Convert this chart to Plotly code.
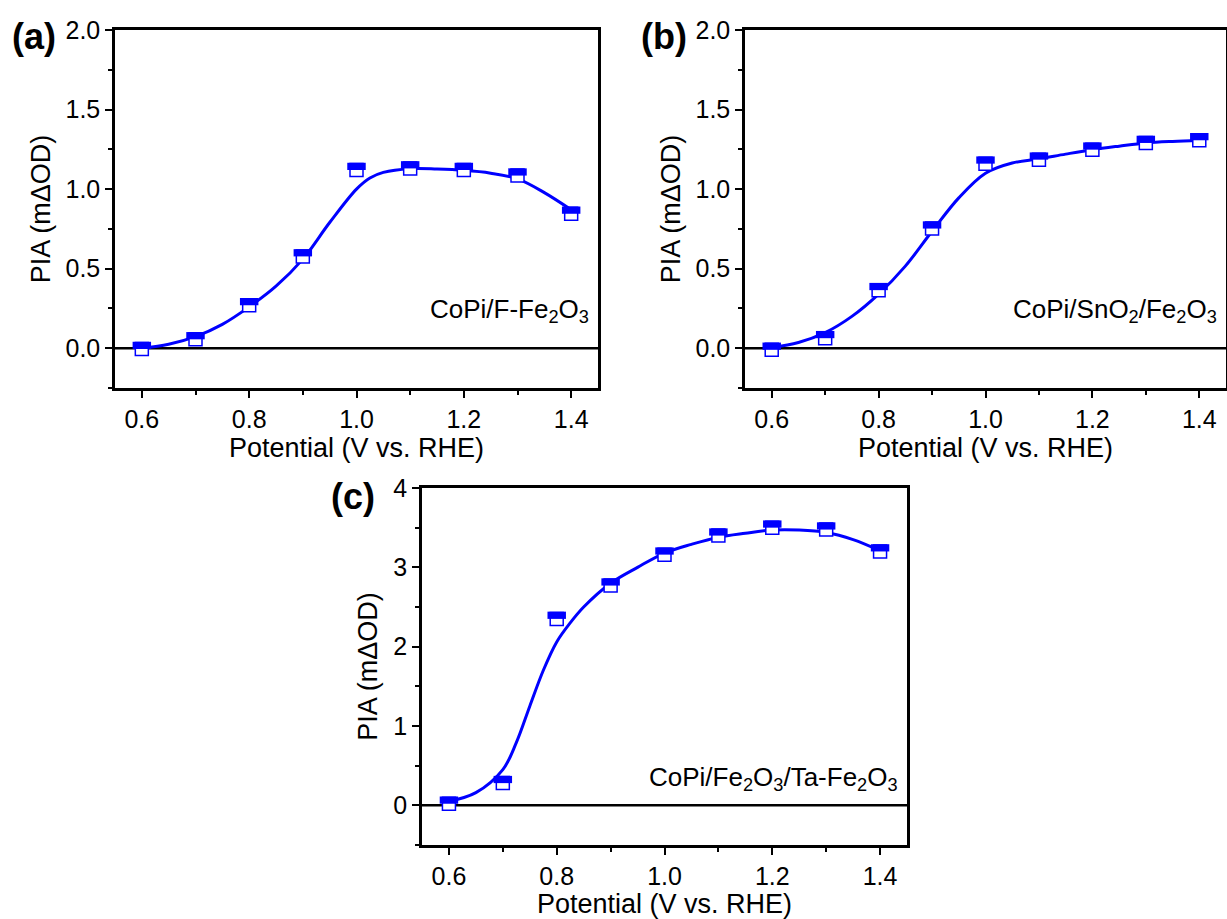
import plotly.graph_objects as go

# ---------------- data ----------------
potential = [0.6, 0.7, 0.8, 0.9, 1.0, 1.1, 1.2, 1.3, 1.4]

pia_a = [-0.005, 0.056, 0.27, 0.577, 1.12, 1.13, 1.12, 1.085, 0.845]
pia_b = [-0.01, 0.063, 0.365, 0.752, 1.16, 1.185, 1.248, 1.29, 1.307]
pia_c = [0.02, 0.28, 2.35, 2.77, 3.16, 3.40, 3.50, 3.476, 3.20]

# smoothed curves
curve_x_a = [0.6, 0.65, 0.7, 0.75, 0.8, 0.85, 0.9, 0.95, 1.0, 1.025, 1.05, 1.1, 1.15, 1.2, 1.25, 1.3, 1.35, 1.4]
curve_a = [0.0, 0.025, 0.073, 0.15, 0.26, 0.39, 0.56, 0.79, 1.0, 1.07, 1.105, 1.128, 1.126, 1.118, 1.10, 1.064, 0.978, 0.87]

curve_x_b = [0.6, 0.65, 0.7, 0.75, 0.8, 0.85, 0.9, 0.95, 1.0, 1.05, 1.1, 1.15, 1.2, 1.25, 1.3, 1.35, 1.4]
curve_b = [0.005, 0.036, 0.098, 0.20, 0.34, 0.516, 0.735, 0.945, 1.10, 1.164, 1.19, 1.22, 1.248, 1.27, 1.29, 1.30, 1.306]

curve_x_c = [0.6, 0.65, 0.7, 0.725, 0.75, 0.775, 0.8, 0.825, 0.85, 0.9, 0.95, 1.0, 1.05, 1.1, 1.15, 1.2, 1.25, 1.3, 1.35, 1.4]
curve_c = [0.05, 0.16, 0.45, 0.79, 1.25, 1.70, 2.06, 2.30, 2.50, 2.80, 3.0, 3.18, 3.29, 3.38, 3.43, 3.47, 3.47, 3.44, 3.35, 3.21]

labels = ["CoPi/F-Fe<sub>2</sub>O<sub>3</sub>",
          "CoPi/SnO<sub>2</sub>/Fe<sub>2</sub>O<sub>3</sub>",
          "CoPi/Fe<sub>2</sub>O<sub>3</sub>/Ta-Fe<sub>2</sub>O<sub>3</sub>"]
panel_tags = ["(a)", "(b)", "(c)"]
x_ticks = [0.6, 0.8, 1.0, 1.2, 1.4]
x_tick_text = ["0.6", "0.8", "1.0", "1.2", "1.4"]

# ---------------- style ----------------
W, H = 1227, 919
BLUE = "#0000ff"
FONT = "Liberation Sans, Arial, sans-serif"
MS = 13  # marker size (px)
MLW = 1.5

panels = [
    dict(xd=[115 / W, 598 / W], yd=[1 - 388 / H, 1 - 30 / H], yr=[-0.25, 2.0], dt=0.5, mdt=0.25,
         fmt=".1f", pts=pia_a, cx=curve_x_a, cy=curve_a, ly=0.165,
         tag=(10 / W, 1 - 37 / H)),
    dict(xd=[745 / W, 1226 / W], yd=[1 - 388 / H, 1 - 30 / H], yr=[-0.25, 2.0], dt=0.5, mdt=0.25,
         fmt=".1f", pts=pia_b, cx=curve_x_b, cy=curve_b, ly=0.165,
         tag=(639 / W, 1 - 37 / H)),
    dict(xd=[422 / W, 907 / W], yd=[1 - 845 / H, 1 - 488 / H], yr=[-0.5, 4.0], dt=1, mdt=0.5,
         fmt="d", pts=pia_c, cx=curve_x_c, cy=curve_c, ly=0.135,
         tag=(329 / W, 1 - 497 / H)),
]

fig = go.Figure()
layout = dict(width=W, height=H, margin=dict(l=0, r=0, t=0, b=0, autoexpand=False),
              paper_bgcolor="white", plot_bgcolor="white", showlegend=False,
              font=dict(family=FONT, color="black"))

annotations = []
shapes = []
for i, p in enumerate(panels):
    n = "" if i == 0 else str(i + 1)
    m = str(i + 4)
    xa, ya = "x" + n, "y" + n
    # pixel -> data conversion for the half-filled marker band
    px_per_unit = (p["yd"][1] - p["yd"][0]) * H / (p["yr"][1] - p["yr"][0])
    band = MS / 2 + MLW / 2
    off = (band / 2) / px_per_unit

    fig.add_trace(go.Scatter(x=p["cx"], y=p["cy"], mode="lines", xaxis=xa, yaxis=ya,
                             line=dict(color=BLUE, width=3, shape="spline", smoothing=1.0),
                             hoverinfo="skip"))
    fig.add_trace(go.Scatter(x=potential, y=p["pts"], mode="markers", xaxis=xa, yaxis=ya,
                             marker=dict(symbol="square", size=MS, color="white",
                                         line=dict(color=BLUE, width=MLW))))
    fig.add_trace(go.Scatter(x=potential, y=[v + off for v in p["pts"]], mode="markers",
                             xaxis=xa, yaxis=ya,
                             marker=dict(symbol="line-ew", size=(MS + MLW) / 1.1, color=BLUE,
                                         line=dict(color=BLUE, width=band)),
                             hoverinfo="skip"))

    axcommon = dict(showline=True, linecolor="black", linewidth=2.5, mirror=True,
                    ticks="outside", ticklen=7, tickwidth=2, tickcolor="black",
                    showgrid=False, zeroline=False, automargin=False,
                    tickfont=dict(family=FONT, size=25, color="black"))
    layout["xaxis" + n] = dict(axcommon, domain=p["xd"], range=[0.55, 1.45], anchor=ya,
                               tickvals=x_ticks, ticktext=x_tick_text,
                               minor=dict(dtick=0.1, tick0=0.6, ticks="outside", ticklen=4,
                                          tickwidth=2, tickcolor="black"),
                               title=dict(text="Potential (V vs. RHE)", standoff=4,
                                          font=dict(family=FONT, size=27, color="black")))
    layout["yaxis" + n] = dict(axcommon, domain=p["yd"], range=p["yr"], anchor=xa,
                               tick0=0, dtick=p["dt"], tickformat=p["fmt"],
                               minor=dict(dtick=p["mdt"], tick0=0, ticks="outside", ticklen=4,
                                          tickwidth=2, tickcolor="black"),
                               title=dict(text="PIA (m\u0394OD)", standoff=8,
                                          font=dict(family=FONT, size=27, color="black")))
    # short mirrored ticks on the top and right frame
    layout["xaxis" + m] = dict(overlaying=xa, anchor=ya, side="top", range=[0.55, 1.45],
                               tickvals=x_ticks, showticklabels=False, showline=False,
                               showgrid=False, zeroline=False, automargin=False,
                               ticks="outside", ticklen=3, tickwidth=2, tickcolor="black")
    layout["yaxis" + m] = dict(overlaying=ya, anchor=xa, side="right", range=p["yr"],
                               tick0=0, dtick=p["mdt"], showticklabels=False, showline=False,
                               showgrid=False, zeroline=False, automargin=False,
                               ticks="outside", ticklen=3, tickwidth=2, tickcolor="black")
    shapes.append(dict(type="line", xref=xa + " domain", yref=ya, x0=0, x1=1, y0=0, y1=0,
                       line=dict(color="black", width=2.5), layer="below"))
    annotations.append(dict(text=labels[i], xref=xa + " domain", yref=ya + " domain",
                            x=0.985, y=p["ly"], xanchor="right", yanchor="bottom",
                            showarrow=False, font=dict(family=FONT, size=26, color="black")))
    annotations.append(dict(text="<b>" + panel_tags[i] + "</b>", xref="paper", yref="paper",
                            x=p["tag"][0], y=p["tag"][1], xanchor="left", yanchor="middle",
                            showarrow=False, font=dict(family=FONT, size=36, color="black")))

layout["annotations"] = annotations
layout["shapes"] = shapes
fig.update_layout(**layout)
fig.write_html("out.html")
